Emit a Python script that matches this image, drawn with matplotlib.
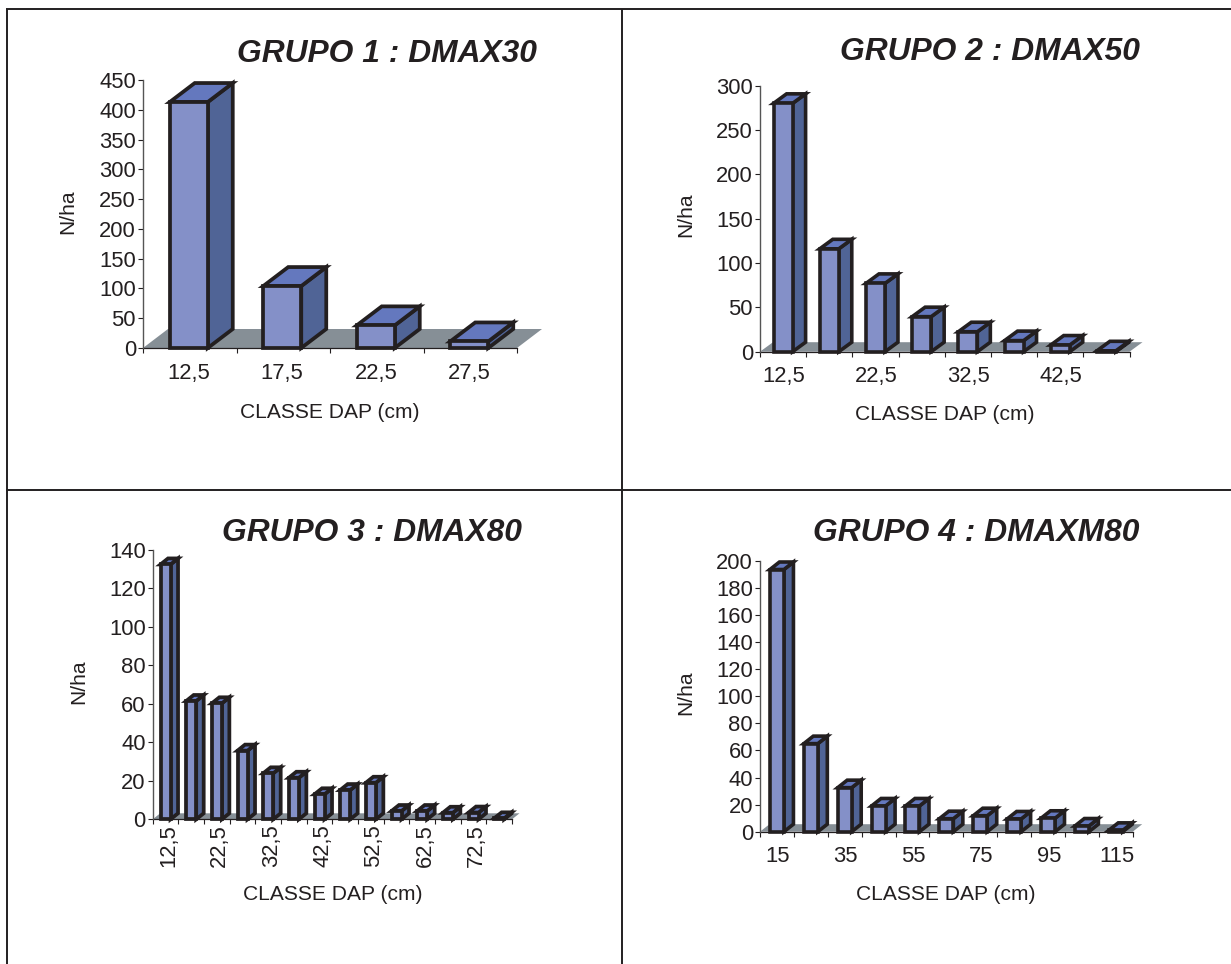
import matplotlib
matplotlib.use("Agg")
import matplotlib.pyplot as plt
from matplotlib.patches import Polygon, Rectangle
from matplotlib.lines import Line2D
from matplotlib.transforms import ScaledTranslation

plt.rcParams['font.family'] = ['Liberation Sans', 'DejaVu Sans']

W, H = 1231, 964
DPI = 100

# ---- data ----
titles = ["GRUPO 1 : DMAX30", "GRUPO 2 : DMAX50", "GRUPO 3 : DMAX80", "GRUPO 4 : DMAXM80"]
cats1 = ["12,5", "17,5", "22,5", "27,5"]
vals1 = [413, 104, 38, 11]
cats2 = ["12,5", "17,5", "22,5", "27,5", "32,5", "37,5", "42,5", "47,5"]
vals2 = [280, 116, 77, 39.5, 22.5, 12.5, 7.5, 1]
cats3 = ["12,5", "17,5", "22,5", "27,5", "32,5", "37,5", "42,5", "47,5", "52,5", "57,5", "62,5", "67,5", "72,5", "77,5"]
vals3 = [132.5, 61.5, 60.3, 35.7, 23.9, 21.6, 13, 15.2, 19, 4.3, 4.3, 3.4, 3.5, 0.5]
cats4 = ["15", "25", "35", "45", "55", "65", "75", "85", "95", "105", "115"]
vals4 = [193.5, 65, 32.5, 19, 19, 9.6, 11.8, 9.4, 9.9, 4.2, 1]
ylabel = "N/ha"
xlabel = "CLASSE DAP (cm)"

FRONT, SIDE, TOP = "#8490C8", "#506496", "#6478BE"
FLOOR = "#868F96"
EDGE = "#231F20"
TEXT = "#231F20"

panels = [
    dict(title=titles[0], cats=cats1, vals=vals1, ymax=450, ystep=50, step=1, rot=0,
         box=(143, 80, 517, 348), depth=(25, 19), bw=38, lw=2.7, pad=10.5, shift=-1,
         title_xy=(387, 54), xl_xy=(330, 412), yl_xy=(68, 212), lab_dx=-1),
    dict(title=titles[1], cats=cats2, vals=vals2, ymax=300, ystep=50, step=2, rot=0,
         box=(760, 85.6, 1129.5, 351.7), depth=(13, 9.5), bw=19, lw=2.6, pad=10, shift=0,
         title_xy=(990, 52), xl_xy=(945, 415), yl_xy=(686, 215), lab_dx=0.5),
    dict(title=titles[2], cats=cats3, vals=vals3, ymax=140, ystep=20, step=2, rot=90,
         box=(152.7, 550, 512, 819.3), depth=(7.5, 6), bw=10, lw=2.7, pad=3.6, shift=0,
         title_xy=(372, 533), xl_xy=(333, 895), yl_xy=(79, 682), lab_dx=3),
    dict(title=titles[3], cats=cats4, vals=vals4, ymax=200, ystep=20, step=2, rot=0,
         box=(760, 560.7, 1132.7, 831.7), depth=(9.5, 7.5), bw=14, lw=2.6, pad=10, shift=0,
         title_xy=(976, 533), xl_xy=(946, 894), yl_xy=(686, 693), lab_dx=1),
]

fig = plt.figure(figsize=(W / DPI, H / DPI), dpi=DPI, facecolor="white")


def fx(px):
    return px / W


def fy(py):
    return 1 - py / H


for p in panels:
    x0, y0, x1, y1 = p["box"]
    ax = fig.add_axes([fx(x0), fy(y1), fx(x1) - fx(x0), fy(y0) - fy(y1)])
    ax.patch.set_alpha(0)
    n = len(p["cats"])
    ax.set_xlim(0, n)
    ax.set_ylim(0, p["ymax"])
    ddx = p["depth"][0] * n / (x1 - x0)
    ddy = p["depth"][1] * p["ymax"] / (y1 - y0)
    w = p["bw"] * n / (x1 - x0)
    sh = p["shift"] * n / (x1 - x0)

    # floor
    ax.add_patch(Polygon([(0, 0), (ddx, ddy), (n + ddx, ddy), (n, 0)], closed=True,
                         fc=FLOOR, ec="none", clip_on=False, zorder=1))

    # bars
    for i, v in enumerate(p["vals"]):
        l = i + 0.5 - w / 2 + sh
        r = l + w
        kw = dict(ec=EDGE, lw=p["lw"], clip_on=False, zorder=3 + i * 0.01, joinstyle="miter")
        ax.add_patch(Polygon([(r, 0), (r + ddx, ddy), (r + ddx, v + ddy), (r, v)], closed=True, fc=SIDE, **kw))
        ax.add_patch(Polygon([(l, v), (l + ddx, v + ddy), (r + ddx, v + ddy), (r, v)], closed=True, fc=TOP, **kw))
        ax.add_patch(Rectangle((l, 0), w, v, fc=FRONT, **kw))

    # axes
    for s in ("top", "right"):
        ax.spines[s].set_visible(False)
    ax.spines["left"].set_color("#555555")
    ax.spines["left"].set_linewidth(1.0)
    ax.spines["bottom"].set_color(EDGE)
    ax.spines["bottom"].set_linewidth(0.9)
    ax.spines["bottom"].set_zorder(2)

    ax.set_yticks(range(0, p["ymax"] + 1, p["ystep"]))
    ax.tick_params(axis="y", length=3.5, width=0.8, color=EDGE, labelsize=15.8, labelcolor=TEXT, pad=1.5)
    ax.set_xticks(range(n + 1))
    ax.set_xticklabels([])
    ax.tick_params(axis="x", which="major", length=3.5, width=0.8, color=EDGE)
    ax.set_xticks([i + 0.5 for i in range(0, n, p["step"])], minor=True)
    labs = ax.set_xticklabels(p["cats"][::p["step"]], minor=True, rotation=p["rot"])
    ax.tick_params(axis="x", which="minor", length=0, labelsize=15.8, labelcolor=TEXT, pad=p["pad"])
    off = ScaledTranslation(p["lab_dx"] / DPI, 0, fig.dpi_scale_trans)
    for t in labs:
        t.set_transform(t.get_transform() + off)

    # labels & title
    ax.set_xlabel(xlabel, fontsize=15.1, color=TEXT, ha="center", va="center")
    ax.xaxis.set_label_coords(fx(p["xl_xy"][0]), fy(p["xl_xy"][1]), transform=fig.transFigure)
    ax.set_ylabel(ylabel, fontsize=15.1, color=TEXT, ha="center", va="center")
    ax.yaxis.set_label_coords(fx(p["yl_xy"][0]), fy(p["yl_xy"][1]), transform=fig.transFigure)
    fig.text(fx(p["title_xy"][0]), fy(p["title_xy"][1]), p["title"], fontsize=22.9, fontweight="bold",
             fontstyle="italic", color=TEXT, ha="center", va="center")

# frame lines of the table
FR = dict(color=EDGE, lw=1.4, transform=fig.transFigure, solid_capstyle="butt")
fig.add_artist(Line2D([fx(6), fx(W)], [fy(9), fy(9)], **FR))
fig.add_artist(Line2D([fx(6), fx(W)], [fy(489.5), fy(489.5)], **FR))
fig.add_artist(Line2D([fx(6.5), fx(6.5)], [fy(9), fy(H)], **FR))
fig.add_artist(Line2D([fx(621.8), fx(621.8)], [fy(9), fy(H)], **FR))

fig.savefig("out.png", dpi=DPI)
